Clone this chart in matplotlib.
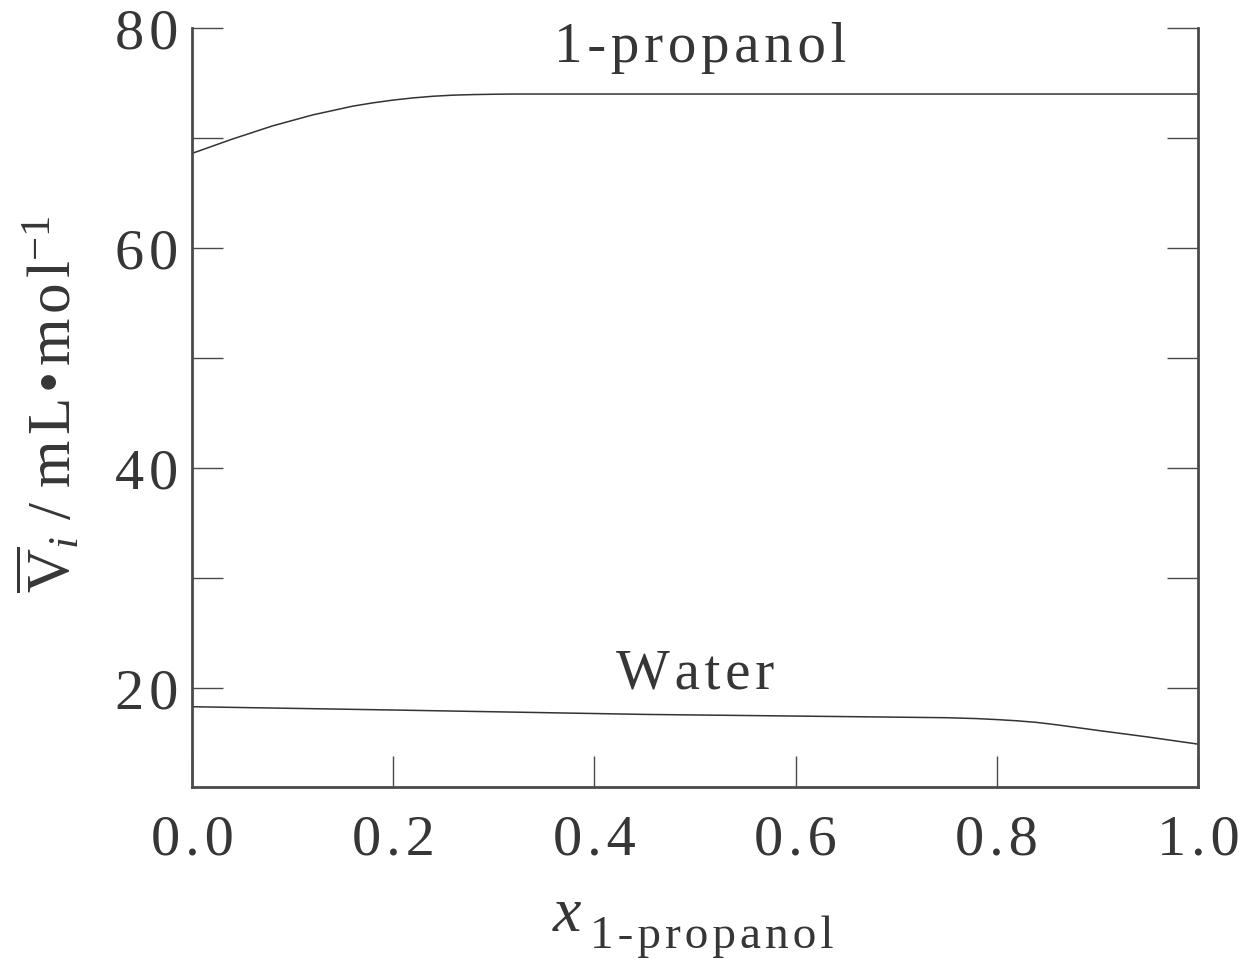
import numpy as np
import matplotlib
matplotlib.use("Agg")
import matplotlib.pyplot as plt
from matplotlib.ticker import MultipleLocator, FixedFormatter

# --- Data ---
x_propanol = [0.0, 0.02, 0.04, 0.06, 0.08, 0.10, 0.12, 0.14, 0.16, 0.18, 0.20,
              0.22, 0.24, 0.26, 0.28, 0.30, 0.32, 0.50, 0.75, 1.0]
v_propanol = [68.6, 69.25, 69.9, 70.5, 71.1, 71.6, 72.1, 72.5, 72.9, 73.2, 73.45,
              73.65, 73.8, 73.9, 73.95, 73.98, 74.0, 74.0, 74.0, 74.0]

x_water = [0.0, 0.2, 0.45, 0.65, 0.75, 0.78, 0.80, 0.82, 0.84, 0.86, 0.88,
           0.90, 0.95, 1.0]
v_water = [18.3, 18.0, 17.6, 17.4, 17.3, 17.22, 17.13, 17.02, 16.87, 16.65, 16.4,
           16.15, 15.55, 14.9]

x_ticks = [0.0, 0.2, 0.4, 0.6, 0.8, 1.0]
y_ticks = [20, 40, 60, 80]

HS = "\u200a"  # hair space, mimics the wide letter spacing of the original


def spaced(s):
    return HS.join(s)


# --- Style ---
plt.rcParams['font.family'] = ['Liberation Serif', 'DejaVu Serif']
plt.rcParams['mathtext.fontset'] = 'custom'
plt.rcParams['mathtext.rm'] = 'Liberation Serif'
plt.rcParams['mathtext.it'] = 'Liberation Serif:italic'
plt.rcParams['mathtext.bf'] = 'Liberation Serif:bold'

spine_col = '#4a4a4a'
text_col = '#363636'

fig = plt.figure(figsize=(12.44, 9.6), dpi=100)
ax = fig.add_axes([0.1543, 0.1802, 0.9630 - 0.1543, 0.9708 - 0.1802])

ax.plot(x_propanol, v_propanol, color='#333333', linewidth=1.1)
ax.plot(x_water, v_water, color='#333333', linewidth=1.1)

ax.set_xlim(0, 1.0)
ax.set_ylim(11, 80)

ax.spines['top'].set_visible(False)
for s in ['left', 'right', 'bottom']:
    ax.spines[s].set_color(spine_col)
    ax.spines[s].set_linewidth(2.0)

ax.set_xticks(x_ticks)
ax.xaxis.set_major_formatter(FixedFormatter([spaced(f"{v:.1f}") for v in x_ticks]))
ax.set_yticks(y_ticks)
ax.yaxis.set_major_formatter(FixedFormatter([spaced(str(v)) for v in y_ticks]))
ax.yaxis.set_minor_locator(MultipleLocator(10))

ax.tick_params(axis='y', which='both', direction='in', left=True, right=True,
               length=22, width=1.0, color=spine_col, labelsize=42,
               labelcolor=text_col, pad=10)
ax.tick_params(axis='x', which='both', direction='in', bottom=True, top=False,
               length=22, width=1.0, color=spine_col, labelsize=42,
               labelcolor=text_col, pad=20)

# curve labels
ax.text(0.505, 78.2, spaced("1-propanol"), fontsize=41, color=text_col,
        ha='center', va='center')
ax.text(0.50, 21.2, spaced("Water"), fontsize=41, color=text_col,
        ha='center', va='center')

# x axis label: italic x with a roman subscript
fig.text(567 / 1244, 1 - 916 / 960, "x", fontsize=46, style='italic',
         color=text_col, ha='center', va='center')
fig.text(590 / 1244, 1 - 948 / 960, spaced("1-propanol"), fontsize=34,
         color=text_col, ha='left', va='baseline')

# y axis label
ylab = (r"$\overline{\mathrm{V}}_{i}$" + " / " + spaced("mL\u2022mol")
        + r"$^{-1}$")
fig.text(50 / 1244, 1 - 404 / 960, ylab, fontsize=44, color=text_col,
         ha='center', va='center', rotation=90)

plt.savefig("out.png", dpi=100)
